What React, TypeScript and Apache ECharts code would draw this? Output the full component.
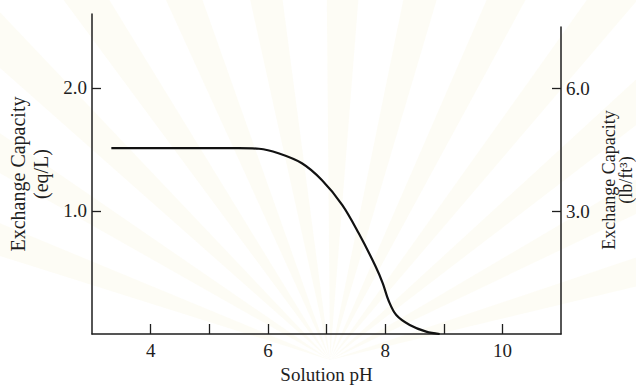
import React, { useEffect, useRef } from "react";
import * as echarts from "echarts";

// Curve: solution pH vs exchange capacity (eq/L)
const phValues = [3.33, 4.5, 5.5, 5.85, 6.18, 6.58, 6.92, 7.27, 7.55, 7.84, 7.96, 8.06, 8.19, 8.42, 8.7, 8.93];
const capacityEqL = [1.51, 1.51, 1.51, 1.505, 1.468, 1.387, 1.251, 1.048, 0.818, 0.547, 0.412, 0.27, 0.154, 0.073, 0.019, 0.0];

const xTicks = [4, 5, 6, 7, 8, 9, 10];
const xLabels = [4, 6, 8, 10];
const leftTicks = [1, 2];
const rightTicks = [3, 6];
const rightTitle = "Exchange Capacity\n(lb/ft³)";

const FONT = "Liberation Serif";
const INK = "#1e1e1e";

export default function App() {
  const ref = useRef<HTMLDivElement>(null);
  useEffect(() => {
    if (!ref.current) return;
    const chart = echarts.init(ref.current, undefined, { renderer: "svg" });

    // very faint watermark rays (decoration only)
    const rays: any[] = [];
    const cx = 330, cy = 360;
    const angs = [-160, -148, -136, -124, -112, -100, -88, -76, -64, -52, -40, -28, -16];
    angs.forEach((a) => {
      const r = 700;
      const a1 = ((a - 2.5) * Math.PI) / 180;
      const a2 = ((a + 2.5) * Math.PI) / 180;
      rays.push({
        type: "polygon",
        z: -10,
        silent: true,
        shape: {
          points: [
            [cx, cy],
            [cx + r * Math.cos(a1), cy + r * Math.sin(a1)],
            [cx + r * Math.cos(a2), cy + r * Math.sin(a2)],
          ],
        },
        style: { fill: "rgba(245,236,200,0.18)" },
      });
    });

    // right-hand axis title, placed as rotated text
    rays.push({
      type: "text",
      x: 617,
      y: 180,
      rotation: Math.PI / 2,
      z: 10,
      silent: true,
      style: {
        text: rightTitle,
        fontFamily: FONT,
        fontSize: 18,
        lineHeight: 17,
        fill: INK,
        align: "center",
        verticalAlign: "middle",
      },
    });

    const common = {
      axisLine: { show: true, lineStyle: { color: INK, width: 1.5 } },
      splitLine: { show: false },
    };

    chart.setOption({
      animation: false,
      backgroundColor: "#ffffff",
      graphic: rays,
      grid: [
        { left: 92, right: 75, top: 14, bottom: 51, outerBoundsMode: "none", containLabel: false },
        { left: 92, right: 75, top: 27, bottom: 51, outerBoundsMode: "none", containLabel: false },
      ],
      xAxis: [
        {
          ...common,
          type: "value",
          gridIndex: 0,
          min: 3,
          max: 11,
          interval: 1,
          name: "Solution pH",
          nameLocation: "middle",
          nameGap: 29,
          nameTextStyle: { fontFamily: FONT, fontSize: 19, color: INK },
          axisTick: { show: true, inside: true, length: 10, customValues: xTicks, lineStyle: { color: INK, width: 1.3 } },
          axisLabel: { customValues: xLabels, margin: 7, fontFamily: FONT, fontSize: 19, color: INK },
        },
        { type: "value", gridIndex: 1, min: 3, max: 11, show: false },
      ],
      yAxis: [
        {
          ...common,
          type: "value",
          gridIndex: 0,
          position: "left",
          min: 0,
          max: 2.6,
          name: "Exchange Capacity\n(eq/L)",
          nameLocation: "middle",
          nameRotate: 90,
          nameGap: 36,
          nameTextStyle: { fontFamily: FONT, fontSize: 20, color: INK, lineHeight: 23, align: "center" },
          axisTick: { show: true, inside: true, length: 9, customValues: leftTicks, lineStyle: { color: INK, width: 1.3 } },
          axisLabel: { customValues: leftTicks, margin: 5, fontFamily: FONT, fontSize: 19, color: INK, formatter: (v: number) => v.toFixed(1) },
        },
        {
          ...common,
          type: "value",
          gridIndex: 1,
          position: "right",
          min: 0,
          max: 7.5,
          axisTick: { show: true, inside: true, length: 9, customValues: rightTicks, lineStyle: { color: INK, width: 1.3 } },
          axisLabel: { customValues: rightTicks, margin: 5, fontFamily: FONT, fontSize: 19, color: INK, formatter: (v: number) => v.toFixed(1) },
        },
      ],
      series: [
        {
          type: "line",
          xAxisIndex: 0,
          yAxisIndex: 0,
          data: phValues.map((p, i) => [p, capacityEqL[i]]),
          smooth: 0.35,
          showSymbol: false,
          symbol: "none",
          lineStyle: { color: "#111", width: 2.2 },
        },
      ],
    });
    return () => chart.dispose();
  }, []);
  return (
    <div
      ref={ref}
      style={{ position: "fixed", left: 0, top: 0, width: 636, height: 385 }}
    />
  );
}
